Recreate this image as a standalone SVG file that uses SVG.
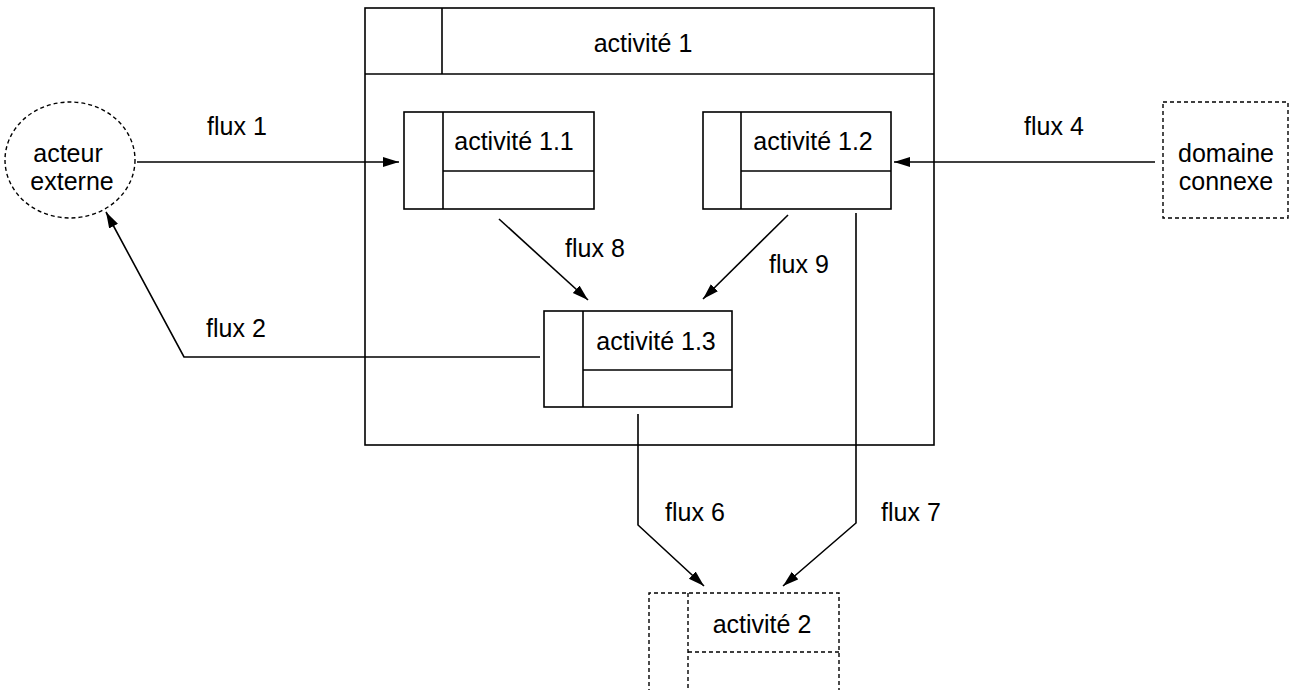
<svg xmlns="http://www.w3.org/2000/svg" width="1297" height="690" viewBox="0 0 1297 690">
  <style>
    text { font-family: "Liberation Sans", Arial, sans-serif; font-size: 25px; fill: #000; text-anchor: middle; }
    .box { fill: none; stroke: #000; stroke-width: 1.6; }
    .dash { fill: none; stroke: #000; stroke-width: 1.4; stroke-dasharray: 4 3; }
    .flow { fill: none; stroke: #000; stroke-width: 1.6; marker-end: url(#arrow); }
  </style>
  <defs>
    <marker id="arrow" markerUnits="userSpaceOnUse" markerWidth="17" markerHeight="11" refX="16" refY="5" orient="auto">
      <path d="M0,0 L16,5 L0,10 z" fill="#000"/>
    </marker>
  </defs>
  <rect width="1297" height="690" fill="#fff"/>

  <!-- parent activity frame -->
  <g id="activite-1">
    <rect class="box" x="365" y="8" width="569" height="437"/>
    <line class="box" x1="365" y1="74" x2="934" y2="74"/>
    <line class="box" x1="442" y1="8" x2="442" y2="74"/>
    <text x="643" y="52">activité 1</text>
  </g>

  <g id="activite-1-1">
    <rect class="box" x="404" y="112" width="190" height="97"/>
    <line class="box" x1="443" y1="112" x2="443" y2="209"/>
    <line class="box" x1="443" y1="171" x2="594" y2="171"/>
    <text x="514" y="150">activité 1.1</text>
  </g>

  <g id="activite-1-2">
    <rect class="box" x="703" y="112" width="188" height="97"/>
    <line class="box" x1="741" y1="112" x2="741" y2="209"/>
    <line class="box" x1="741" y1="171" x2="891" y2="171"/>
    <text x="813" y="150">activité 1.2</text>
  </g>

  <g id="activite-1-3">
    <rect class="box" x="544" y="311" width="188" height="96"/>
    <line class="box" x1="583" y1="311" x2="583" y2="407"/>
    <line class="box" x1="583" y1="370" x2="732" y2="370"/>
    <text x="656" y="350">activité 1.3</text>
  </g>

  <g id="activite-2">
    <path class="dash" d="M649,700 V593 H839 V700"/>
    <line class="dash" x1="688" y1="593" x2="688" y2="700"/>
    <line class="dash" x1="688" y1="652" x2="839" y2="652"/>
    <text x="762" y="633">activité 2</text>
  </g>

  <g id="acteur-externe">
    <ellipse class="dash" cx="70" cy="160" rx="65" ry="58"/>
    <text x="68" y="162">acteur</text>
    <text x="72" y="190">externe</text>
  </g>

  <g id="domaine-connexe">
    <rect class="dash" x="1163" y="102" width="125" height="116"/>
    <text x="1226" y="162">domaine</text>
    <text x="1226" y="190">connexe</text>
  </g>

  <!-- flows -->
  <g id="connectors">
    <path class="flow" d="M137,162 H399"/>
    <path class="flow" d="M1155,162 H894"/>
    <path class="flow" d="M499,219 L588,300"/>
    <path class="flow" d="M788,215 L703,299"/>
    <path class="flow" d="M540,357 H184 L106,212"/>
    <path class="flow" d="M638,414 V525 L704,586"/>
    <path class="flow" d="M856,213 V523 L783,586"/>
    <text x="237" y="135">flux 1</text>
    <text x="1054" y="135">flux 4</text>
    <text x="595" y="257">flux 8</text>
    <text x="799" y="273">flux 9</text>
    <text x="236" y="337">flux 2</text>
    <text x="695" y="521">flux 6</text>
    <text x="911" y="521">flux 7</text>
  </g>
</svg>
